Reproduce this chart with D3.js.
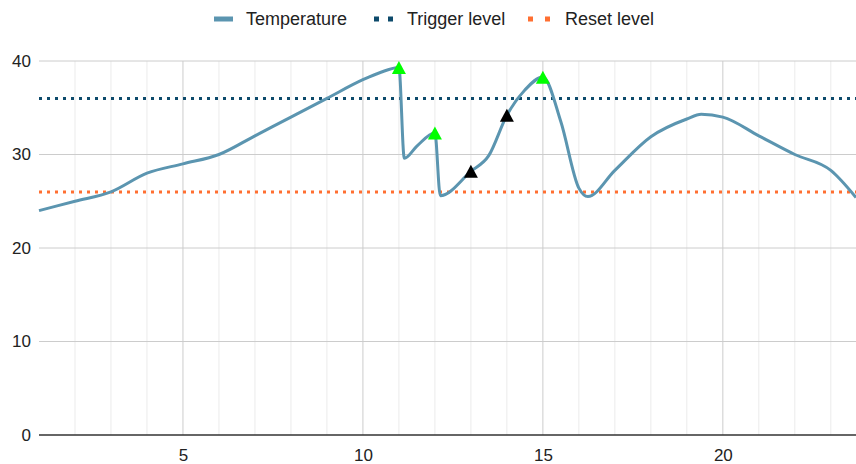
<!DOCTYPE html>
<html>
<head>
<meta charset="utf-8">
<script src="https://cdn.jsdelivr.net/npm/d3@7"></script>
<style>
  body { margin: 0; background: #fff; }
  text { font-family: "Liberation Sans", Arial, sans-serif; }
</style>
</head>
<body>
<script>
// temperature readings (hour, value)
let hours = [1, 2, 3, 4, 5, 6, 7, 8, 9, 10, 10.5, 11, 11.15, 11.5, 12, 12.15, 13, 13.5, 14, 14.5, 15, 15.5, 16, 16.25, 17, 18, 19, 19.4, 20, 21, 22, 23, 23.7];
let temps = [24, 25, 26, 28, 29, 30, 32, 34, 36, 38, 38.8, 39.3, 29.6, 30.9, 32.3, 25.6, 28.2, 29.9, 34.2, 36.9, 38.3, 33.5, 26.4, 25.5, 28.3, 31.9, 33.8, 34.3, 34, 32, 30, 28.3, 25.4];

let triggerLevel = 36;
let resetLevel = 26;

// markers
let greenHours = [11, 12, 15];
let greenTemps = [39.3, 32.3, 38.25];
let blackHours = [13, 14];
let blackTemps = [28.2, 34.2];

let xTicks = [5, 10, 15, 20];
let yTicks = [0, 10, 20, 30, 40];
let xDomain = [1, 23.7];
let yDomain = [0, 40];

let legendNames = ["Temperature", "Trigger level", "Reset level"];

let width = 856;
let height = 464;

let colTemp = "#5b95b0";
let colTrigger = "#0d4a6b";
let colReset = "#ff6f31";

let svg = d3.select("body").append("svg")
  .attr("width", width).attr("height", height);

let margin = {top: 61, right: 0, bottom: 29, left: 39};

let xScale = d3.scaleLinear().domain(xDomain).range([margin.left, width - margin.right]);
let yScale = d3.scaleLinear().domain(yDomain).range([height - margin.bottom, margin.top]);

let plot = svg.append("g");

// minor vertical grid (every hour)
let minor = d3.range(2, 24).filter(function(d){ return xTicks.indexOf(d) < 0; });
plot.selectAll(".minor").data(minor).enter().append("line")
  .attr("x1", function(d){ return xScale(d); })
  .attr("x2", function(d){ return xScale(d); })
  .attr("y1", yScale(0)).attr("y2", yScale(40))
  .style("stroke", "#ebebeb").style("stroke-width", 1);

// major vertical grid
plot.selectAll(".majorx").data(xTicks).enter().append("line")
  .attr("x1", function(d){ return xScale(d); })
  .attr("x2", function(d){ return xScale(d); })
  .attr("y1", yScale(0)).attr("y2", yScale(40))
  .style("stroke", "#cccccc").style("stroke-width", 1);

// horizontal grid
plot.selectAll(".majory").data(yTicks.slice(1)).enter().append("line")
  .attr("x1", xScale(xDomain[0])).attr("x2", xScale(xDomain[1]))
  .attr("y1", function(d){ return yScale(d); })
  .attr("y2", function(d){ return yScale(d); })
  .style("stroke", "#cccccc").style("stroke-width", 1);

// axes
let xAxis = d3.axisBottom(xScale).tickValues(xTicks).tickSize(0).tickPadding(14);
let gx = svg.append("g")
  .attr("transform", "translate(0," + yScale(0) + ")")
  .call(xAxis);
gx.select(".domain").remove();
gx.selectAll("text").style("font-size", "17px").style("fill", "#222")
  .style("font-family", "'Liberation Sans', Arial, sans-serif");

let yAxis = d3.axisLeft(yScale).tickValues(yTicks).tickSize(0).tickPadding(8);
let gy = svg.append("g")
  .attr("transform", "translate(" + margin.left + ",0)")
  .call(yAxis);
gy.select(".domain").remove();
gy.selectAll("text").style("font-size", "17px").style("fill", "#222")
  .style("font-family", "'Liberation Sans', Arial, sans-serif");

// level lines
plot.append("line")
  .attr("x1", xScale(xDomain[0])).attr("x2", xScale(xDomain[1]))
  .attr("y1", yScale(triggerLevel)).attr("y2", yScale(triggerLevel))
  .style("stroke", colTrigger).style("stroke-width", 3)
  .style("stroke-dasharray", "3,5");

plot.append("line")
  .attr("x1", xScale(xDomain[0])).attr("x2", xScale(xDomain[1]))
  .attr("y1", yScale(resetLevel)).attr("y2", yScale(resetLevel))
  .style("stroke", colReset).style("stroke-width", 3)
  .style("stroke-dasharray", "3,5");

// baseline
plot.append("line")
  .attr("x1", xScale(xDomain[0])).attr("x2", xScale(xDomain[1]))
  .attr("y1", yScale(0)).attr("y2", yScale(0))
  .style("stroke", "#333").style("stroke-width", 1.5);

// temperature line
let tempData = hours.map(function(h, i){ return {x: h, y: temps[i]}; });
let line = d3.line()
  .x(function(d){ return xScale(d.x); })
  .y(function(d){ return yScale(d.y); })
  .curve(d3.curveMonotoneX);

plot.append("path")
  .datum(tempData)
  .attr("d", line)
  .style("fill", "none")
  .style("stroke", colTemp)
  .style("stroke-width", 3)
  .style("stroke-linejoin", "round");

// triangle markers
function triangle(cx, cy) {
  let h = 13, w = 14;
  return "M" + cx + "," + (cy - h / 2) + "L" + (cx + w / 2) + "," + (cy + h / 2) +
    "L" + (cx - w / 2) + "," + (cy + h / 2) + "Z";
}
let greenData = greenHours.map(function(h, i){ return {x: h, y: greenTemps[i]}; });
let blackData = blackHours.map(function(h, i){ return {x: h, y: blackTemps[i]}; });

plot.selectAll(".green").data(greenData).enter().append("path")
  .attr("d", function(d){ return triangle(xScale(d.x), yScale(d.y)); })
  .style("fill", "#00ff00");
plot.selectAll(".black").data(blackData).enter().append("path")
  .attr("d", function(d){ return triangle(xScale(d.x), yScale(d.y)); })
  .style("fill", "#000000");

// legend
let legend = svg.append("g");
let ly = 19;
legend.append("line")
  .attr("x1", 214).attr("x2", 233).attr("y1", ly).attr("y2", ly)
  .style("stroke", colTemp).style("stroke-width", 5);
legend.append("text").attr("x", 246).attr("y", ly).attr("dy", "0.35em")
  .text(legendNames[0]).style("font-size", "18px").style("fill", "#222");

[374, 388].forEach(function(x){
  legend.append("rect").attr("x", x).attr("y", ly - 2.5).attr("width", 5).attr("height", 5)
    .style("fill", colTrigger);
});
legend.append("text").attr("x", 407).attr("y", ly).attr("dy", "0.35em")
  .text(legendNames[1]).style("font-size", "18px").style("fill", "#222");

[528, 545].forEach(function(x){
  legend.append("rect").attr("x", x).attr("y", ly - 2.5).attr("width", 5).attr("height", 5)
    .style("fill", colReset);
});
legend.append("text").attr("x", 565).attr("y", ly).attr("dy", "0.35em")
  .text(legendNames[2]).style("font-size", "18px").style("fill", "#222");
</script>
</body>
</html>
